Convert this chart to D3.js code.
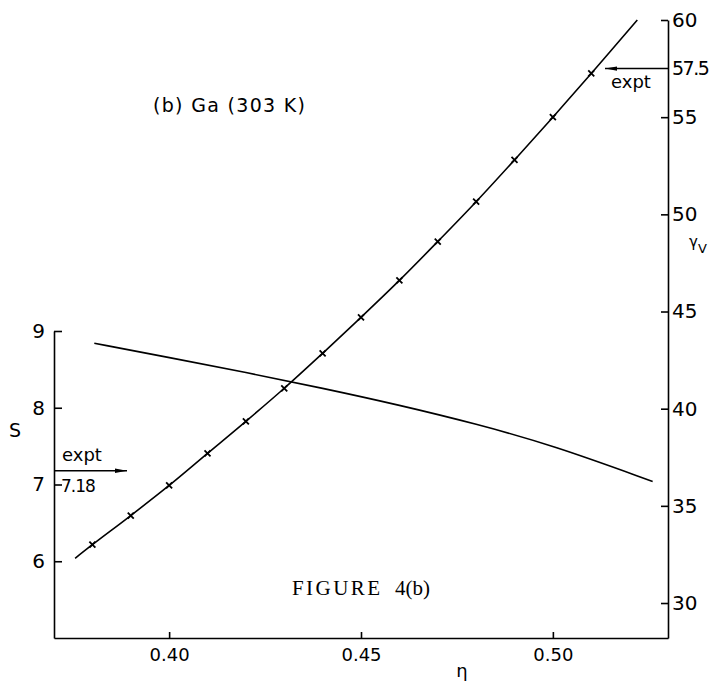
<!DOCTYPE html>
<html lang="en">
<head>
<meta charset="utf-8">
<title>Figure 4(b) Ga (303 K)</title>
<script src="https://cdn.jsdelivr.net/npm/d3@7"></script>
<style>
  body { margin: 0; background: #fff; }
  svg text { font-family: "DejaVu Sans", sans-serif; fill: #000; }
  svg text.caption { font-family: "Liberation Serif", serif; }
  .axis path, .axis line { stroke: #000; stroke-width: 1.6; }
</style>
</head>
<body>
<script>
// gamma_v curve (right axis) and its marked points
var etaMarks   = [0.38, 0.39, 0.40, 0.41, 0.42, 0.43, 0.44, 0.45, 0.46, 0.47, 0.48, 0.49, 0.50, 0.51];
var gammaMarks = [33.0, 34.5, 36.05, 37.7, 39.35, 41.05, 42.85, 44.7, 46.6, 48.6, 50.65, 52.8, 55.0, 57.25];
var etaGammaEnds = [0.3755, 0.522];
var gammaEnds    = [32.3, 60.0];

// S curve (left axis)
var etaS  = [0.3805, 0.40, 0.42, 0.44, 0.46, 0.48, 0.50, 0.526];
var sVals = [8.84, 8.655, 8.46, 8.255, 8.035, 7.79, 7.51, 7.04];

// axis ticks and experimental values
var etaTicks   = [0.40, 0.45, 0.50];
var sTicks     = [6, 7, 8, 9];
var gammaTicks = [30, 35, 40, 45, 50, 55, 60];
var sExpt = 7.18;
var gammaExpt = 57.5;

var w = 714, h = 684;
var svg = d3.select("body").append("svg").attr("width", w).attr("height", h);

svg.append("defs").append("marker")
  .attr("id", "arrow").attr("viewBox", "0 0 12 6")
  .attr("refX", 12).attr("refY", 3)
  .attr("markerWidth", 12).attr("markerHeight", 6)
  .attr("markerUnits", "userSpaceOnUse").attr("orient", "auto")
  .append("path").attr("d", "M0,0.8L12,3L0,5.2Z").attr("fill", "#000");

var x  = d3.scaleLinear().domain([0.37, 0.53]).range([54, 668]);
var yS = d3.scaleLinear().domain([5, 9]).range([638, 331]);
var yG = d3.scaleLinear().domain([28.2, 60]).range([638, 20]);

// axes, ticks pointing inward
var xAxis = svg.append("g").attr("class", "axis")
  .attr("transform", "translate(0,638)")
  .call(d3.axisBottom(x).tickValues(etaTicks).tickFormat(d3.format(".2f"))
    .tickSizeInner(-6).tickSizeOuter(0).tickPadding(10));
xAxis.selectAll("text").attr("font-size", 18);

var sAxis = svg.append("g").attr("class", "axis")
  .attr("transform", "translate(54,0)")
  .call(d3.axisLeft(yS).tickValues(sTicks).tickFormat(d3.format("d"))
    .tickSizeInner(-8).tickSizeOuter(0).tickPadding(9));
sAxis.selectAll("text").attr("font-size", 20);

var gAxis = svg.append("g").attr("class", "axis")
  .attr("transform", "translate(668,0)")
  .call(d3.axisRight(yG).tickValues(gammaTicks).tickFormat(d3.format("d"))
    .tickSizeInner(-7).tickSizeOuter(0).tickPadding(4));
gAxis.selectAll("text").attr("font-size", 20);

// gamma curve
var gPts = [[etaGammaEnds[0], gammaEnds[0]]]
  .concat(etaMarks.map(function(e, i) { return [e, gammaMarks[i]]; }))
  .concat([[etaGammaEnds[1], gammaEnds[1]]]);

svg.append("path")
  .datum(gPts)
  .attr("fill", "none").attr("stroke", "#000").attr("stroke-width", 1.6)
  .attr("d", d3.line().curve(d3.curveCatmullRom)
    .x(function(d) { return x(d[0]); })
    .y(function(d) { return yG(d[1]); }));

svg.selectAll("path.mark")
  .data(etaMarks)
  .enter().append("path")
  .attr("class", "mark")
  .attr("fill", "none").attr("stroke", "#000").attr("stroke-width", 1.8)
  .attr("d", function(e, i) {
    var cx = x(e), cy = yG(gammaMarks[i]);
    return "M" + (cx - 3) + "," + (cy - 3) + "L" + (cx + 3) + "," + (cy + 3) +
           "M" + (cx - 3) + "," + (cy + 3) + "L" + (cx + 3) + "," + (cy - 3);
  });

// S curve
svg.append("path")
  .datum(etaS.map(function(e, i) { return [e, sVals[i]]; }))
  .attr("fill", "none").attr("stroke", "#000").attr("stroke-width", 1.6)
  .attr("d", d3.line().curve(d3.curveBasis)
    .x(function(d) { return x(d[0]); })
    .y(function(d) { return yS(d[1]); }));

// experimental arrows
svg.append("line")
  .attr("x1", x(0.37)).attr("x2", 127)
  .attr("y1", yS(sExpt)).attr("y2", yS(sExpt))
  .attr("stroke", "#000").attr("stroke-width", 1.5)
  .attr("marker-end", "url(#arrow)");
svg.append("text").attr("x", 62).attr("y", yS(sExpt) - 10)
  .attr("font-size", 18).text("expt");
svg.append("text").attr("x", 61).attr("y", yS(sExpt) + 21)
  .attr("font-size", 17).attr("letter-spacing", -1).text("7.18");

svg.append("line")
  .attr("x1", x(0.53)).attr("x2", 605)
  .attr("y1", yG(gammaExpt)).attr("y2", yG(gammaExpt))
  .attr("stroke", "#000").attr("stroke-width", 1.5)
  .attr("marker-end", "url(#arrow)");
svg.append("text").attr("x", 611).attr("y", yG(gammaExpt) + 19)
  .attr("font-size", 18).text("expt");
svg.append("text").attr("x", 672).attr("y", yG(gammaExpt)).attr("dy", "0.32em")
  .attr("font-size", 19).attr("letter-spacing", -1.5).text("57.5");

// labels
svg.append("text").attr("x", 9).attr("y", 437).attr("font-size", 19).text("S");
var gl = svg.append("text").attr("x", 689).attr("y", 247).attr("font-size", 15);
gl.append("tspan").text("γ");
gl.append("tspan").attr("dy", 6).attr("font-size", 13).text("V");
svg.append("text").attr("x", 462).attr("y", 677).attr("text-anchor", "middle")
  .attr("font-size", 18).text("η");

svg.append("text").attr("x", 153).attr("y", 112)
  .attr("font-size", 19).attr("textLength", 152).attr("lengthAdjust", "spacing")
  .text("(b) Ga (303 K)");

svg.append("text").attr("class", "caption").attr("x", 292).attr("y", 595)
  .attr("font-size", 21)
  .attr("textLength", 88).attr("lengthAdjust", "spacing").text("FIGURE");
svg.append("text").attr("class", "caption").attr("x", 395).attr("y", 595)
  .attr("font-size", 21)
  .text("4(b)");
</script>
</body>
</html>
